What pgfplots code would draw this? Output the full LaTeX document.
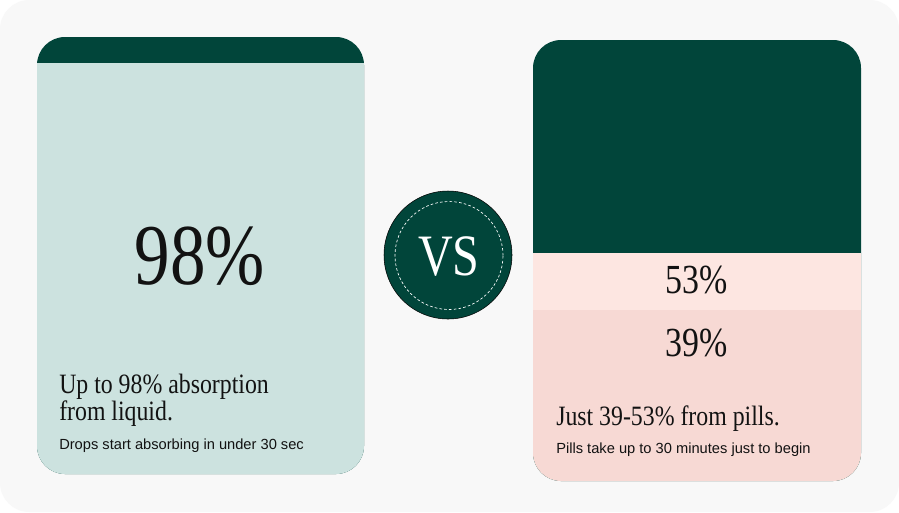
\documentclass[border=0pt]{standalone}
\usepackage{pgfplots}
\pgfplotsset{compat=1.18}
\usepackage{fontspec}
\setmainfont{Liberation Serif}
\newfontfamily\disp[FakeStretch=0.82]{Liberation Serif}
\newfontfamily\ttl[FakeStretch=0.85]{Liberation Serif}
\newfontfamily\sans{Liberation Sans}
\definecolor{dark}{HTML}{01453A}
\definecolor{mint}{HTML}{CCE2DF}
\definecolor{lpink}{HTML}{FDE6E1}
\definecolor{pink}{HTML}{F7D9D4}
\definecolor{bg}{HTML}{F8F8F8}
\definecolor{ink}{HTML}{121212}
\begin{document}
\begin{tikzpicture}
\begin{axis}[
  scale only axis, width=674.25pt, height=384pt,
  xmin=0, xmax=899, ymin=0, ymax=512, y dir=reverse,
  hide axis, clip=false]
% background panel
\fill[white] (axis cs:0,0) rectangle (axis cs:899,512);
\fill[bg, rounded corners=22pt] (axis cs:0,0) rectangle (axis cs:899,512);
% ---- left card: liquid, 98%
\addplot[draw=none, fill=dark, mark=none, rounded corners=21pt]
  coordinates {(200,474) (364,474) (364,37) (37,37) (37,474)} -- cycle;
\addplot[draw=none, fill=mint, mark=none, rounded corners=21pt]
  coordinates {(200,474) (364,474) (364,63) (37,63) (37,474)} -- cycle;
\addplot[draw=none, fill=mint, mark=none]
  coordinates {(37,300) (364,300) (364,63) (37,63)} -- cycle;
% ---- right card: pills, 39-53%
\addplot[draw=none, fill=dark, mark=none, rounded corners=21pt]
  coordinates {(700,481) (861,481) (861,40) (533,40) (533,481)} -- cycle;
\addplot[draw=none, fill=pink, mark=none, rounded corners=21pt]
  coordinates {(700,481) (861,481) (861,310) (533,310) (533,481)} -- cycle;
\addplot[draw=none, fill=pink, mark=none]
  coordinates {(533,420) (861,420) (861,310) (533,310)} -- cycle;
\addplot[draw=none, fill=lpink, mark=none]
  coordinates {(533,310) (861,310) (861,253) (533,253)} -- cycle;
% ---- VS badge
\addplot[only marks, mark=*, mark size=48pt, mark options={fill=dark, draw=none}]
  coordinates {(448,255)};
\addplot[only marks, mark=o, mark size=40.5pt,
  mark options={draw=white, line width=0.5pt, dash pattern=on 2pt off 1.6pt},
  nodes near coords={VS},
  every node near coord/.style={anchor=center, text=white, inner sep=0pt,
    yshift=-1pt, font=\disp\fontsize{44}{44}\selectfont}]
  coordinates {(449,255.5)};
% ---- texts
\node[anchor=base, text=ink, font=\disp\fontsize{65}{65}\selectfont] at (axis cs:200,284) {98\%};
\node[anchor=base, text=ink, font=\disp\fontsize{31}{31}\selectfont] at (axis cs:697,293) {53\%};
\node[anchor=base, text=ink, font=\disp\fontsize{31}{31}\selectfont] at (axis cs:697,356) {39\%};
\node[anchor=base west, inner sep=0pt, align=left, text=ink, font=\ttl\fontsize{21}{17.6}\selectfont] at (axis cs:59,420) {Up to 98\% absorption\\from liquid.};
\node[anchor=base west, inner sep=0pt, text=ink, font=\sans\fontsize{11}{11}\selectfont] at (axis cs:59,449) {Drops start absorbing in under 30 sec};
\node[anchor=base west, inner sep=0pt, text=ink, font=\ttl\fontsize{21}{21}\selectfont] at (axis cs:556,425) {Just 39-53\% from pills.};
\node[anchor=base west, inner sep=0pt, text=ink, font=\sans\fontsize{11}{11}\selectfont] at (axis cs:556,453) {Pills take up to 30 minutes just to begin};
\end{axis}
\end{tikzpicture}
\end{document}
